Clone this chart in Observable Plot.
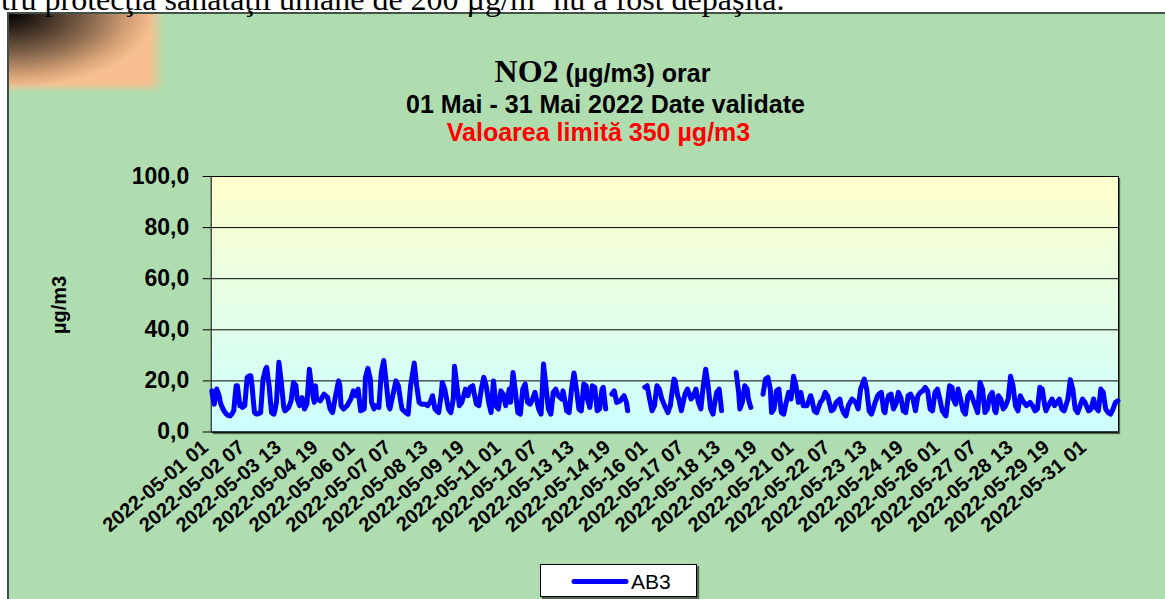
<!DOCTYPE html>
<html>
<head>
<meta charset="utf-8">
<script src="https://cdn.jsdelivr.net/npm/d3@7"></script>
<script src="https://cdn.jsdelivr.net/npm/@observablehq/plot@0.6"></script>
<style>
html, body { margin: 0; padding: 0; background: #fff; overflow: hidden; }
#wrap { position: relative; width: 1165px; height: 599px; overflow: hidden; font-family: "Liberation Sans", Arial, sans-serif; }
#frame { position: absolute; left: 7px; top: 12px; width: 1200px; height: 650px; background: #b0ddb0; border: 2px solid #44504a; box-sizing: border-box; }
#corner { position: absolute; left: 9px; top: 14px; width: 156px; height: 79px;
  background:
    linear-gradient(to right, rgba(176,221,176,0) 90%, #b0ddb0 100%),
    linear-gradient(to bottom, rgba(176,221,176,0) 87%, #b0ddb0 100%),
    radial-gradient(farthest-side at 0 0, #000 0%, #3e3024 25%, #86664c 52%, #d6a277 78%, #f8c090 94%); }
#plotbg { position: absolute; left: 210.7px; top: 176px; width: 907.3px; height: 255.5px;
  background: linear-gradient(#ffffcc, #ccffff); box-shadow: 2px 2px 1px rgba(0,0,0,0.55); }
#chart { position: absolute; left: 0; top: 0; }
#chart g[aria-label="x-axis tick label"] { font-size: 20px; transform: translate(-6px, 13px); }
#overlay { position: absolute; left: 0; top: 0; pointer-events: none; }
#legend { position: absolute; left: 540px; top: 564px; width: 157px; height: 33px; background: #fff; border: 1px solid #000; box-sizing: border-box; box-shadow: 2px 2px 1px rgba(0,0,0,0.55); }
</style>
</head>
<body>
<div id="wrap">
  <div id="frame"></div>
  <div id="corner"></div>
  <div id="plotbg"></div>
  <div id="chart"></div>
  <svg id="overlay" width="1165" height="599" font-family="Liberation Sans, Arial, sans-serif">
    <text x="1" y="9.5" font-family="Liberation Serif, Times New Roman, serif" font-size="32">tru protecţia sănătăţii umane de 200 µg/m<tspan font-size="21" dy="-11">3</tspan><tspan dy="11"> nu a fost depăşită.</tspan></text>
    <text x="602.5" y="81.7" text-anchor="middle" font-weight="bold"><tspan font-family="Liberation Serif, Times New Roman, serif" font-size="32">NO2</tspan><tspan font-size="25"> (µg/m3) orar</tspan></text>
    <text x="605.5" y="113.3" text-anchor="middle" font-weight="bold" font-size="25">01 Mai - 31 Mai 2022 Date validate</text>
    <text x="598.5" y="140.7" text-anchor="middle" font-weight="bold" font-size="25" fill="#ff0000">Valoarea limită 350 µg/m3</text>
    <text transform="translate(66,305) rotate(-90)" text-anchor="middle" font-weight="bold" font-size="20">µg/m3</text>
  </svg>
  <div id="legend">
    <svg width="157" height="33" font-family="Liberation Sans, Arial, sans-serif">
      <line x1="33" x2="85" y1="16.5" y2="16.5" stroke="#0000ff" stroke-width="5" stroke-linecap="round"></line>
      <text x="90" y="23.5" font-size="21">AB3</text>
    </svg>
  </div>
</div>
<script>
// Category tick labels (every 30 hours)
const tickLabels = [
  "2022-05-01 01","2022-05-02 07","2022-05-03 13","2022-05-04 19","2022-05-06 01",
  "2022-05-07 07","2022-05-08 13","2022-05-09 19","2022-05-11 01","2022-05-12 07",
  "2022-05-13 13","2022-05-14 19","2022-05-16 01","2022-05-17 07","2022-05-18 13",
  "2022-05-19 19","2022-05-21 01","2022-05-22 07","2022-05-23 13","2022-05-24 19",
  "2022-05-26 01","2022-05-27 07","2022-05-28 13","2022-05-29 19","2022-05-31 01"
];
const tickInterval = 30;
const yTicks = [0, 20, 40, 60, 80, 100];

// Hourly NO2 values, station AB3 (µg/m3), 01 May 01:00 .. 01 Jun 00:00; null = missing
const ab3 = [
  16.1,13.0,10.9,14.0,16.8,15.5,14.2,11.6,10.3,9.2,8.3,7.6,7.0,6.6,6.4,6.3,6.8,7.5,8.3,13.5,18.1,18.1,14.0,10.3,
  10.9,9.6,9.9,10.3,15.8,21.4,21.8,22.0,22.0,18.1,12.5,7.6,7.2,7.0,7.2,7.4,7.6,14.0,20.7,22.5,24.5,25.3,21.5,18.1,
  12.5,7.6,7.2,7.0,9.0,11.6,19.5,27.3,23.5,19.4,14.5,9.6,8.3,8.7,9.2,9.6,10.9,12.2,16.0,19.4,18.8,18.1,12.9,11.5,
  10.3,12.0,13.5,11.2,9.0,10.0,10.9,18.0,24.6,20.5,16.8,14.0,11.6,18.1,12.9,12.6,12.4,12.2,13.1,14.0,14.8,14.3,13.9,13.5,
  11.2,9.0,8.2,7.6,10.2,12.9,15.4,17.8,20.0,18.1,10.3,9.6,9.0,9.4,9.9,10.3,11.2,12.1,12.9,14.5,16.1,15.1,14.2,15.5,
  16.8,12.5,8.3,8.5,8.8,9.0,21.4,23.2,24.9,22.8,20.7,11.6,10.3,9.0,10.3,10.0,9.8,9.6,16.5,23.3,25.7,28.0,23.7,19.4,
  14.8,10.3,9.0,11.2,13.4,15.5,17.8,20.0,19.0,18.1,14.8,11.6,9.0,8.5,8.0,7.6,7.3,7.0,12.5,18.1,21.0,24.0,27.0,22.5,
  18.1,14.8,11.6,11.2,10.9,10.9,10.9,10.9,10.6,10.3,11.0,11.6,12.9,14.2,11.6,9.0,8.5,8.0,7.6,10.9,14.2,19.4,18.1,16.8,
  14.2,11.6,9.0,8.3,7.6,10.2,12.9,25.7,21.9,18.1,14.2,10.3,11.0,11.6,13.3,15.0,16.8,15.5,14.2,15.8,17.5,17.8,18.1,15.5,
  13.2,10.9,10.6,10.3,13.5,16.8,19.1,21.4,19.8,18.1,14.8,11.6,9.6,7.6,14.2,20.0,15.1,10.3,9.6,9.0,12.5,16.1,15.4,14.8,
  12.5,10.3,12.5,14.6,16.8,11.6,17.5,23.3,19.4,15.5,11.5,7.6,7.3,7.0,11.9,16.8,17.8,18.8,15.2,11.6,11.2,10.9,11.9,12.9,
  14.2,15.5,13.3,11.2,9.0,8.0,7.0,16.8,26.6,22.3,18.1,13.5,9.0,8.0,7.0,11.2,15.5,16.1,16.8,15.5,14.2,13.8,13.3,12.9,
  16.1,13.5,10.9,8.3,8.0,7.6,12.2,16.8,20.0,23.1,20.0,16.8,12.9,9.0,8.6,8.3,13.5,18.8,18.4,18.1,12.9,11.2,9.6,13.8,
  18.1,17.8,17.5,12.9,8.3,8.7,9.0,12.9,16.8,17.5,13.2,9.0,null,null,null,null,14.8,15.5,16.1,13.8,11.6,11.8,12.0,12.2,
  13.0,13.6,14.2,12.9,11.6,8.3,null,null,null,null,null,null,null,null,null,null,null,null,null,17.5,17.8,18.1,15.5,12.9,
  10.6,8.3,9.3,10.3,14.2,18.1,17.5,16.8,14.8,12.9,11.8,10.7,9.6,8.6,7.6,9.0,10.3,14.2,17.5,20.7,20.0,17.1,14.2,12.9,
  10.6,8.3,10.5,12.6,14.8,15.8,16.8,15.5,14.2,12.9,13.5,14.2,15.5,16.8,14.2,11.6,10.3,9.0,13.5,18.1,21.3,24.6,21.3,18.1,
  13.5,9.0,8.0,7.0,10.3,12.9,15.5,16.1,16.8,12.9,8.3,null,null,null,null,null,null,null,null,null,null,null,23.3,19.4,
  15.5,9.0,10.3,11.6,14.8,18.1,17.5,16.8,12.9,11.2,9.6,null,null,null,null,null,null,null,null,null,14.8,17.7,20.7,21.0,
  21.4,19.1,16.8,7.6,8.3,9.0,12.5,16.1,16.5,16.8,12.2,7.6,7.3,7.0,9.3,11.6,13.5,15.5,14.2,12.9,17.3,21.8,19.9,18.1,
  14.8,11.6,13.5,15.5,12.9,10.3,10.3,10.3,10.3,11.6,12.9,14.2,12.9,10.6,8.3,7.9,7.6,8.9,10.3,11.6,12.2,12.9,14.2,15.5,
  14.8,14.2,12.2,10.2,8.3,8.6,9.0,10.3,11.6,12.0,12.5,12.9,10.3,8.9,7.6,6.9,6.3,8.3,10.3,11.2,12.0,12.9,12.5,12.0,
  11.6,10.3,9.0,12.9,16.8,18.1,19.4,20.7,18.8,16.8,12.5,8.3,7.6,7.0,8.5,10.1,11.6,12.9,14.2,14.8,15.2,15.5,11.9,8.3,
  7.6,10.9,12.5,14.2,14.5,14.8,11.9,9.0,10.0,10.9,13.2,15.5,14.5,13.5,10.9,8.3,8.0,7.6,10.9,14.2,14.5,14.8,13.8,12.9,
  10.6,8.3,11.2,14.2,14.8,15.5,15.8,16.1,16.8,17.5,16.8,16.1,12.5,9.0,8.6,8.3,11.9,15.5,16.1,16.8,14.8,12.9,10.6,8.3,
  7.6,6.9,6.3,10.3,14.2,18.1,17.8,17.5,12.9,11.9,10.9,13.8,16.8,14.8,12.9,10.6,8.3,7.6,7.0,10.6,14.2,14.8,15.5,14.2,
  12.9,11.6,10.3,8.9,7.6,13.5,19.4,18.1,16.8,12.2,7.6,8.3,9.0,11.6,14.2,14.8,15.5,11.9,8.3,7.6,10.9,14.2,13.5,12.9,
  10.9,9.0,9.6,10.3,11.6,12.9,17.3,21.8,19.9,18.1,14.2,10.3,9.3,8.3,11.2,14.2,13.2,12.2,11.6,10.9,10.3,10.7,11.2,11.6,
  10.9,10.3,9.3,8.3,8.6,9.0,13.2,17.5,17.1,16.8,13.5,10.3,8.3,9.3,10.3,11.2,12.0,12.9,11.6,10.3,10.9,11.6,12.2,12.9,
  10.9,9.0,8.6,8.3,9.8,11.4,12.9,16.7,20.5,18.6,16.8,12.9,9.0,8.3,7.6,8.9,10.3,11.6,12.9,12.2,11.6,10.5,9.4,8.3,
  8.6,9.0,10.9,12.9,11.2,9.6,8.9,8.3,12.5,16.8,16.1,15.5,12.2,9.0,8.3,7.6,7.3,7.0,8.0,9.0,10.3,11.6,11.9,12.2
];

const tickIdx = tickLabels.map((_, k) => k * tickInterval);

const chart = Plot.plot({
  width: 1165,
  height: 599,
  marginLeft: 210.7,
  marginRight: 47,
  marginTop: 176,
  marginBottom: 167.5,
  style: {
    background: "transparent",
    overflow: "visible",
    fontFamily: "Liberation Sans, Arial, sans-serif",
    fontSize: "23px",
    fontWeight: "bold",
    color: "#000"
  },
  x: {
    domain: [-0.5, ab3.length - 0.5],
    ticks: tickIdx,
    tickFormat: i => tickLabels[Math.round(i / tickInterval)],
    tickRotate: -40,
    tickSize: 0,
    tickPadding: 17,
    label: null
  },
  y: {
    domain: [0, 100],
    ticks: yTicks,
    tickFormat: d => d.toFixed(1).replace(".", ","),
    tickSize: 8,
    tickPadding: 14,
    label: null
  },
  marks: [
    Plot.ruleY(yTicks, {stroke: "#000", strokeWidth: 1}),
    Plot.frame({stroke: "#000", strokeWidth: 1}),
    Plot.lineY(ab3, {stroke: "#0000ff", strokeWidth: 5, strokeLinejoin: "round", strokeLinecap: "round"})
  ]
});
document.getElementById("chart").appendChild(chart);
</script>
</body>
</html>
